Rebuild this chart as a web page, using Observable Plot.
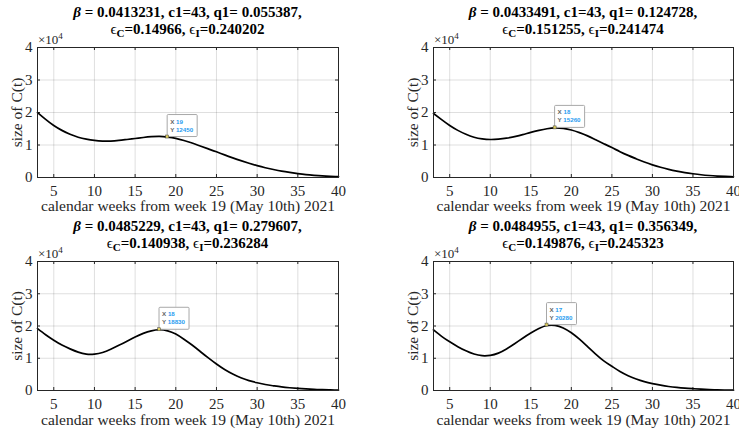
<!DOCTYPE html>
<html><head><meta charset="utf-8">
<script src="https://cdn.jsdelivr.net/npm/d3@7"></script>
<script src="https://cdn.jsdelivr.net/npm/@observablehq/plot@0.6"></script>
<style>
body{margin:0;background:#fff;}
#root{position:relative;width:739px;height:435px;overflow:hidden;font-family:"Liberation Serif","Times New Roman",serif;}
.panel{position:absolute;}
.title{position:absolute;text-align:center;font-weight:bold;font-size:15px;line-height:17px;color:#000;white-space:nowrap;transform:translateX(-50%);}
.title sub{font-size:11px;vertical-align:-3px;line-height:0;}
.title .eps{font-weight:normal;}
.exp{position:absolute;font-size:13px;color:#262626;white-space:nowrap;line-height:14px;}
.exp sup{font-size:9px;vertical-align:5px;line-height:0;}
</style>
</head><body>
<div id="root"></div>
<script>
// ---- data ----
const weeks = [3,4,5,6,7,8,9,10,11,12,13,14,15,16,17,18,19,20,21,22,23,24,25,26,27,28,29,30,31,32,33,34,35,36,37,38,39,40];
const series1 = [20000,17900,16000,14500,13300,12400,11800,11400,11200,11200,11400,11700,12000,12300,12550,12650,12450,12050,11400,10600,9700,8800,7900,6950,6050,5200,4400,3650,3000,2450,1950,1550,1200,900,680,500,370,270];
const series2 = [19700,17800,16000,14500,13300,12400,11900,11700,11800,12100,12600,13200,13900,14500,15000,15260,15100,14600,13800,12800,11600,10400,9200,7950,6800,5750,4750,3900,3150,2500,1950,1500,1150,850,620,450,320,230];
const series3 = [19200,17300,15600,14100,12900,11900,11300,11300,11800,12800,14000,15300,16600,17700,18500,18830,18500,17500,15900,14100,12100,10100,8200,6500,5100,3950,3050,2400,1850,1450,1100,850,650,480,350,250,180,120];
const series4 = [18800,16800,15100,13600,12300,11300,10800,10900,11600,12900,14500,16200,17800,19200,20150,20200,19400,17900,15900,13600,11300,9200,7500,5900,4600,3550,2750,2150,1650,1250,950,720,550,400,290,210,150,100];
const allSeries = [series1, series2, series3, series4];

const betas = ["0.0413231","0.0433491","0.0485229","0.0484955"];
const c1s = ["43","43","43","43"];
const q1s = ["0.055387","0.124728","0.279607","0.356349"];
const epsC = ["0.14966","0.151255","0.140938","0.149876"];
const epsI = ["0.240202","0.241474","0.236284","0.245323"];

const tipX = [19, 18, 18, 17];
const tipY = [12450, 15260, 18830, 20280];

const xTicks = [5,10,15,20,25,30,35,40];
const yTicks = [0,10000,20000,30000,40000];
const yTickLabels = ["0","1","2","3","4"];
const xLabel = "calendar weeks from week 19 (May 10th) 2021";
const yLabel = "size of C(t)";

// ---- layout ----
const panels = [
  {left:0,   top:0,   width:370, height:217, ml:37, mr:32, mt:47, mb:40, xdy:29},
  {left:370, top:0,   width:369, height:217, ml:63, mr:6,  mt:47, mb:40, xdy:29},
  {left:0,   top:214, width:370, height:221, ml:37, mr:32, mt:47, mb:45, xdy:30},
  {left:370, top:214, width:369, height:221, ml:63, mr:6,  mt:47, mb:45, xdy:30}
];

const root = document.getElementById("root");
const axisColor = "#262626";

function tipMark(tx, ty) {
  return (index, scales) => {
    const x = scales.x(tx), y = scales.y(ty);
    const g = d3.create("svg:g").attr("text-anchor", "start");
    g.append("rect").attr("x", x).attr("y", y - 22).attr("width", 30).attr("height", 22).attr("rx", 1)
      .attr("fill", "#ffffff").attr("fill-opacity", 0.95).attr("stroke", "#a8a8a8").attr("stroke-width", 1);
    const t = g.append("g").attr("font-family", "Liberation Sans, DejaVu Sans, sans-serif").attr("font-size", 6.2).attr("font-weight", "bold");
    const r1 = t.append("text").attr("x", x + 3).attr("y", y - 13);
    r1.append("tspan").attr("fill", "#606060").text("X ");
    r1.append("tspan").attr("fill", "#1f9bf0").text(String(tx));
    const r2 = t.append("text").attr("x", x + 3).attr("y", y - 5);
    r2.append("tspan").attr("fill", "#606060").text("Y ");
    r2.append("tspan").attr("fill", "#1f9bf0").text(String(ty));
    g.append("rect").attr("x", x - 1.5).attr("y", y - 1.5).attr("width", 3).attr("height", 3)
      .attr("fill", "#e0d060").attr("stroke", "#404040").attr("stroke-width", 0.5);
    return g.node();
  };
}

panels.forEach((p, i) => {
  const data = weeks.map((w, j) => ({week: w, value: allSeries[i][j]}));
  const innerW = p.width - p.ml - p.mr;
  const innerH = p.height - p.mt - p.mb;
  const tick = 3;
  const chart = Plot.plot({
    width: p.width, height: p.height,
    marginLeft: p.ml, marginRight: p.mr, marginTop: p.mt, marginBottom: p.mb,
    style: {fontFamily: "'Liberation Serif', 'Times New Roman', serif", fontSize: "15px", color: axisColor, background: "transparent", overflow: "visible"},
    x: {domain: [3, 40]},
    y: {domain: [0, 40000]},
    marks: [
      Plot.gridX(xTicks, {stroke: axisColor, strokeOpacity: 0.15}),
      Plot.gridY(yTicks, {stroke: axisColor, strokeOpacity: 0.15}),
      Plot.tickX(xTicks, {x: d => d, insetTop: innerH - tick, stroke: axisColor}),
      Plot.tickX(xTicks, {x: d => d, insetBottom: innerH - tick, stroke: axisColor}),
      Plot.tickY(yTicks, {y: d => d, insetRight: innerW - tick, stroke: axisColor}),
      Plot.tickY(yTicks, {y: d => d, insetLeft: innerW - tick, stroke: axisColor}),
      Plot.axisX(xTicks, {tickSize: 0, tickPadding: 8, label: null, fontSize: 15, fill: axisColor}),
      Plot.axisY(yTicks, {tickSize: 0, tickPadding: 5, label: null, fontSize: 15, fill: axisColor,
        tickFormat: d => yTickLabels[yTicks.indexOf(d)]}),
      Plot.line(data, {x: "week", y: "value", stroke: "#000", strokeWidth: 1.7, curve: "natural"}),
      Plot.frame({stroke: axisColor, strokeWidth: 1}),
      Plot.text([xLabel], {frameAnchor: "bottom", lineAnchor: "middle", textAnchor: "middle", dy: p.xdy, fontSize: 15.5, fill: axisColor}),
      Plot.text([yLabel], {frameAnchor: "left", lineAnchor: "middle", textAnchor: "middle", rotate: -90, dx: -20, fontSize: 15.5, fill: axisColor}),
      tipMark(tipX[i], tipY[i])
    ]
  });
  const div = document.createElement("div");
  div.className = "panel";
  div.style.left = p.left + "px";
  div.style.top = p.top + "px";
  div.appendChild(chart);
  root.appendChild(div);

  const title = document.createElement("div");
  title.className = "title";
  title.style.left = (p.left + p.ml + innerW / 2) + "px";
  title.style.top = (p.top + 4) + "px";
  title.innerHTML = `<i>β</i> = ${betas[i]}, c1=${c1s[i]}, q1= ${q1s[i]},<br><span class="eps">ϵ</span><sub>C</sub>=${epsC[i]}, <span class="eps">ϵ</span><sub>I</sub>=${epsI[i]}`;
  root.appendChild(title);

  const exp = document.createElement("div");
  exp.className = "exp";
  exp.style.left = (p.left + p.ml + 1) + "px";
  exp.style.top = (p.top + p.mt - 14) + "px";
  exp.innerHTML = "×10<sup>4</sup>";
  root.appendChild(exp);
});
</script>
</body></html>
